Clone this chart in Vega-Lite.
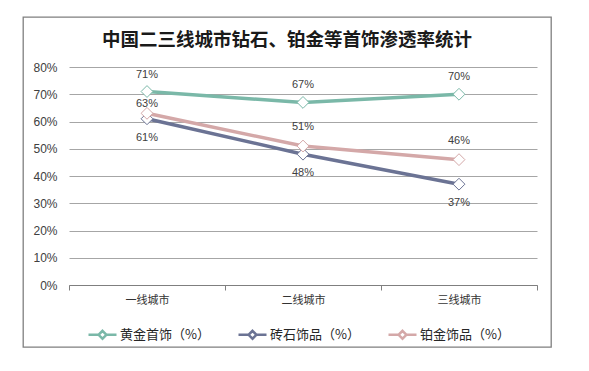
{
  "$schema": "https://vega.github.io/schema/vega-lite/v6.json",
  "width": 528,
  "height": 330,
  "autosize": {"type": "none"},
  "padding": {"left": 23, "top": 17, "right": 38, "bottom": 24},
  "background": "white",
  "config": {
    "view": {"stroke": "#7f7f7f", "strokeWidth": 1.3},
    "font": "Liberation Sans"
  },
  "title": {
    "text": "中国二三线城市钻石、铂金等首饰渗透率统计",
    "font": "Noto Sans CJK SC",
    "fontWeight": "bold",
    "fontSize": 18.5,
    "color": "#1a1a1a",
    "anchor": "middle",
    "frame": "group",
    "offset": -47,
    "baseline": "alphabetic"
  },
  "data": {
    "values": [
      {"city": "一线城市", "series": "黄金首饰（%）", "rate": 0.71},
      {"city": "一线城市", "series": "砖石饰品（%）", "rate": 0.61},
      {"city": "一线城市", "series": "铂金饰品（%）", "rate": 0.63},
      {"city": "二线城市", "series": "黄金首饰（%）", "rate": 0.67},
      {"city": "二线城市", "series": "砖石饰品（%）", "rate": 0.48},
      {"city": "二线城市", "series": "铂金饰品（%）", "rate": 0.51},
      {"city": "三线城市", "series": "黄金首饰（%）", "rate": 0.70},
      {"city": "三线城市", "series": "砖石饰品（%）", "rate": 0.37},
      {"city": "三线城市", "series": "铂金饰品（%）", "rate": 0.46}
    ]
  },
  "encoding": {
    "x": {
      "field": "city",
      "type": "nominal",
      "sort": ["一线城市", "二线城市", "三线城市"],
      "scale": {"type": "band", "range": [46, 514], "paddingInner": 0, "paddingOuter": 0},
      "axis": {
        "title": null,
        "offset": -62,
        "domainColor": "#7f7f7f",
        "domainWidth": 1.2,
        "tickBand": "extent",
        "tickColor": "#7f7f7f",
        "tickSize": 5,
        "labelAngle": 0,
        "labelPadding": 4,
        "labelFont": "Noto Sans CJK SC",
        "labelFontSize": 11,
        "labelColor": "#333333",
        "grid": false
      }
    },
    "y": {
      "field": "rate",
      "type": "quantitative",
      "scale": {"domain": [0, 0.8], "range": [268, 50], "nice": false},
      "axis": {
        "title": null,
        "offset": -46,
        "values": [0, 0.1, 0.2, 0.3, 0.4, 0.5, 0.6, 0.7, 0.8],
        "format": ".0%",
        "domain": false,
        "ticks": false,
        "labelPadding": 12,
        "labelFontSize": 12,
        "labelColor": "#404040",
        "grid": true,
        "gridColor": "#a6a6a6",
        "gridWidth": 1
      }
    },
    "color": {
      "field": "series",
      "type": "nominal",
      "scale": {
        "domain": ["黄金首饰（%）", "砖石饰品（%）", "铂金饰品（%）"],
        "range": ["#7ab8a8", "#6b7394", "#d4a8a8"]
      },
      "legend": {
        "title": null,
        "orient": "none",
        "direction": "horizontal",
        "legendX": 64,
        "legendY": 302,
        "symbolType": "M-1,0L-0.28,0M0.28,0L1,0M0,-0.28L0.28,0L0,0.28L-0.28,0Z",
        "symbolSize": 784,
        "symbolStrokeWidth": 2.5,
        "symbolFillColor": "white",
        "labelFont": "Noto Sans CJK SC",
        "labelFontSize": 13,
        "labelColor": "#262626",
        "labelOffset": 2,
        "columnPadding": 23
      }
    }
  },
  "layer": [
    {"mark": {"type": "line", "strokeWidth": 3.5}},
    {"mark": {"type": "point", "shape": "diamond", "size": 140, "filled": false, "fill": "white", "strokeWidth": 1, "opacity": 1}},
    {
      "transform": [{"filter": "datum.series === '黄金首饰（%）'"}],
      "mark": {"type": "text", "dy": -17, "fontSize": 11, "color": "#404040"},
      "encoding": {"text": {"field": "rate", "format": ".0%"}, "color": {"value": "#404040"}}
    },
    {
      "transform": [{"filter": "datum.series === '砖石饰品（%）'"}],
      "mark": {"type": "text", "dy": 19, "fontSize": 11, "color": "#404040"},
      "encoding": {"text": {"field": "rate", "format": ".0%"}, "color": {"value": "#404040"}}
    },
    {
      "transform": [{"filter": "datum.series === '铂金饰品（%）' && datum.city !== '一线城市'"}],
      "mark": {"type": "text", "dy": -19, "fontSize": 11, "color": "#404040"},
      "encoding": {"text": {"field": "rate", "format": ".0%"}, "color": {"value": "#404040"}}
    },
    {
      "transform": [{"filter": "datum.series === '铂金饰品（%）' && datum.city === '一线城市'"}],
      "mark": {"type": "text", "dy": -9, "fontSize": 11, "color": "#404040"},
      "encoding": {"text": {"field": "rate", "format": ".0%"}, "color": {"value": "#404040"}}
    }
  ]
}
